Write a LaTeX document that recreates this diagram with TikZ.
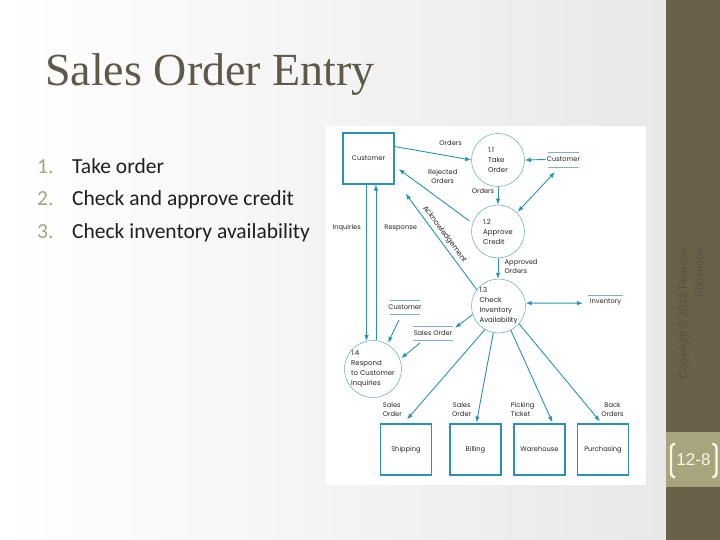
\documentclass[tikz,border=0pt]{standalone}
\usepackage{fontspec}
\usetikzlibrary{arrows.meta,calc}
\newfontfamily\titlefont{Liberation Serif}
\newfontfamily\listfont{Carlito}
\newfontfamily\dfdfont{Poppins}
\newfontfamily\sidefont{Liberation Sans}
\definecolor{flow}{RGB}{42,146,182}
\definecolor{ring}{RGB}{95,165,190}
\definecolor{store}{RGB}{130,175,195}
\definecolor{titlec}{RGB}{94,89,72}
\definecolor{numc}{RGB}{166,163,135}
\definecolor{sidebar}{RGB}{105,97,72}
\definecolor{sideband}{RGB}{168,164,126}
\definecolor{copyc}{RGB}{86,82,66}
\definecolor{cream}{RGB}{250,247,232}
\definecolor{bgray}{RGB}{232,232,232}
\tikzset{
 ext/.style={draw=flow, line width=1.2pt, minimum size=51pt, inner sep=0pt, font=\dfdfont\fontsize{6.7}{8}\selectfont, text=black!85},
 proc/.style={circle, draw=ring, line width=0.5pt, minimum size=53pt, inner sep=0pt, align=left, font=\dfdfont\fontsize{7}{10}\selectfont, text=black!85},
 lbl/.style={font=\dfdfont\fontsize{6.7}{9}\selectfont, text=black!85, inner sep=1pt},
 flowline/.style={draw=flow, line width=0.9pt, -{Latex[length=6pt,width=4.5pt]}},
 bothline/.style={draw=flow, line width=0.9pt, {Latex[length=6pt,width=4.5pt]}-{Latex[length=6pt,width=4.5pt]}},
 storeline/.style={draw=store, line width=0.5pt},
 listnum/.style={anchor=base west, font=\listfont\fontsize{21.5}{26}\selectfont, text=numc, inner sep=0pt},
 listtxt/.style={anchor=base west, font=\listfont\fontsize{21.5}{26}\selectfont, text=black!88, inner sep=0pt},
}
\begin{document}
\begin{tikzpicture}[x=1pt,y=-1pt]
\useasboundingbox (0,0) rectangle (720,540);
% background
\shade[left color=white, right color=bgray] (0,0) rectangle (666,540);
\fill[white] (326,126) rectangle (646,485);
\fill[sidebar] (666,0) rectangle (720,540);
\fill[sideband] (666,432) rectangle (720,487);
% sidebar texts
\node[rotate=90, align=right, font=\sidefont\fontsize{11}{16}\selectfont, text=copyc, inner sep=0pt] (copy) at (691,313.5) {Copyright © 2012 Pearson\\Education};
\node[font=\sidefont\fontsize{17}{17}\selectfont, text=cream, inner sep=0pt] (page) at (693.5,460) {12-8};
\draw[cream, line width=2.4pt] (675,443.5) .. controls (671,445.5) .. (671,451) -- (671,470) .. controls (671,475.5) .. (675,477.5);
\draw[cream, line width=2.4pt] (712.5,443.5) .. controls (716.5,445.5) .. (716.5,451) -- (716.5,470) .. controls (716.5,475.5) .. (712.5,477.5);
% title and list
\node[anchor=base west, font=\titlefont\fontsize{46}{46}\selectfont, text=titlec, inner sep=0pt] (title) at (45,86) {Sales Order Entry};
\node[listnum] (n1) at (37,174) {1.};
\node[listtxt] (t1) at (72,174) {Take order};
\node[listnum] (n2) at (37,206) {2.};
\node[listtxt] (t2) at (72,206) {Check and approve credit};
\node[listnum] (n3) at (37,238) {3.};
\node[listtxt] (t3) at (72,238) {Check inventory availability};
% external entities
\node[ext] (cust) at (368.5,158.5) {Customer};
\node[ext] (ship) at (406,449.5) {Shipping};
\node[ext] (bill) at (475.5,449.5) {Billing};
\node[ext] (ware) at (539.5,449.5) {Warehouse};
\node[ext] (purch) at (603,449.5) {Purchasing};
% processes
\node[proc] (p11) at (498,160) {1.1\\Take\\Order};
\node[proc] (p12) at (498,231.5) {1.2\\Approve\\Credit};
\node[proc, minimum size=54pt] (p13) at (498.5,306) {1.3\\Check\\Inventory\\Availability};
\node[proc, minimum size=56pt] (p14) at (373,369) {1.4\\Respond\\to Customer\\Inquiries};
% data stores
\node[lbl] (dsR) at (563.5,159.5) {Customer};
\draw[storeline] (548,152) -- (579,152) (548,167) -- (579,167);
\node[lbl] (dsInv) at (605.5,302.5) {Inventory};
\draw[storeline] (588,295) -- (623,295);
\node[lbl] (dsCL) at (405,307) {Customer};
\draw[storeline] (390,300) -- (420,300) (390,314) -- (420,314);
\node[lbl] (dsSO) at (433,333.5) {Sales Order};
\draw[storeline] (413,326.7) -- (453,326.7) (413,340) -- (453,340);
% helper coordinates
\coordinate (rBot) at (555,172);
\coordinate (invIn) at (583,303.2);
\coordinate (soIn) at (455,328);
\coordinate (soOut) at (420,343);
\coordinate (clOut) at (399,320);
\coordinate (ackEnd) at ($(cust.south east)+(11,9)$);
% flows
\draw[flowline] ($(cust.north east)!0.27!(cust.south east)$) -- (p11.west);
\draw[flowline, shorten <=4pt] (p12.162) -- ($(cust.east)+(4,10.5)$);
\draw[flowline] (p13.143) -- (ackEnd);
\draw[flowline] (p11.south) -- (p12.north);
\draw[bothline, shorten >=1pt] (rBot) -- (p12.45);
\draw[flowline] (dsR.west) -- (p11.east);
\draw[flowline] (p12.south) -- (p12.south |- p13.north);
\draw[bothline] (p13.6) -- (invIn);
\draw[flowline] (p13.198) -- (soIn);
\draw[flowline, shorten >=1.5pt] (soOut) -- (p14.20);
\draw[flowline, shorten >=1.5pt] (clOut) -- (p14.60);
\draw[flowline] (cust.south -| p14.103) -- (p14.103);
\draw[flowline] (p14.84) -- (p14.84 |- cust.south);
\draw[flowline] (p13.240) -- ($(ship.north)+(1,-4)$);
\draw[flowline] (p13.259) -- ($(bill.north)+(1,-1)$);
\draw[flowline] (p13.297) -- ($(ware.north)+(13,-1)$);
\draw[flowline] (p13.319) -- ($(purch.north)+(-3,-2)$);
% flow labels
\node[lbl, rotate=-53.4, font=\dfdfont\fontsize{7.3}{9}\selectfont] (ack) at (444.5,234.5) {Acknowledgement};
\node[lbl] (lOrd1) at (450.7,142.7) {Orders};
\node[lbl, align=center] (lRej) at (442.7,176) {Rejected\\Orders};
\node[lbl] (lOrd2) at (483,191) {Orders};
\node[lbl, align=left, anchor=west] (lApp) at (503.5,266.7) {Approved\\Orders};
\node[lbl] (lInq) at (346.7,228.3) {Inquiries};
\node[lbl] (lResp) at (400.7,228.3) {Response};
\node[lbl, align=left, anchor=west] (lSO1) at (381.7,409.5) {Sales\\Order};
\node[lbl, align=center] (lSO2) at (461.7,409.5) {Sales\\Order};
\node[lbl, align=left, anchor=west] (lPick) at (509.7,409.5) {Picking\\Ticket};
\node[lbl, align=center] (lBack) at (612.5,409.5) {Back\\Orders};
\end{tikzpicture}
\end{document}
